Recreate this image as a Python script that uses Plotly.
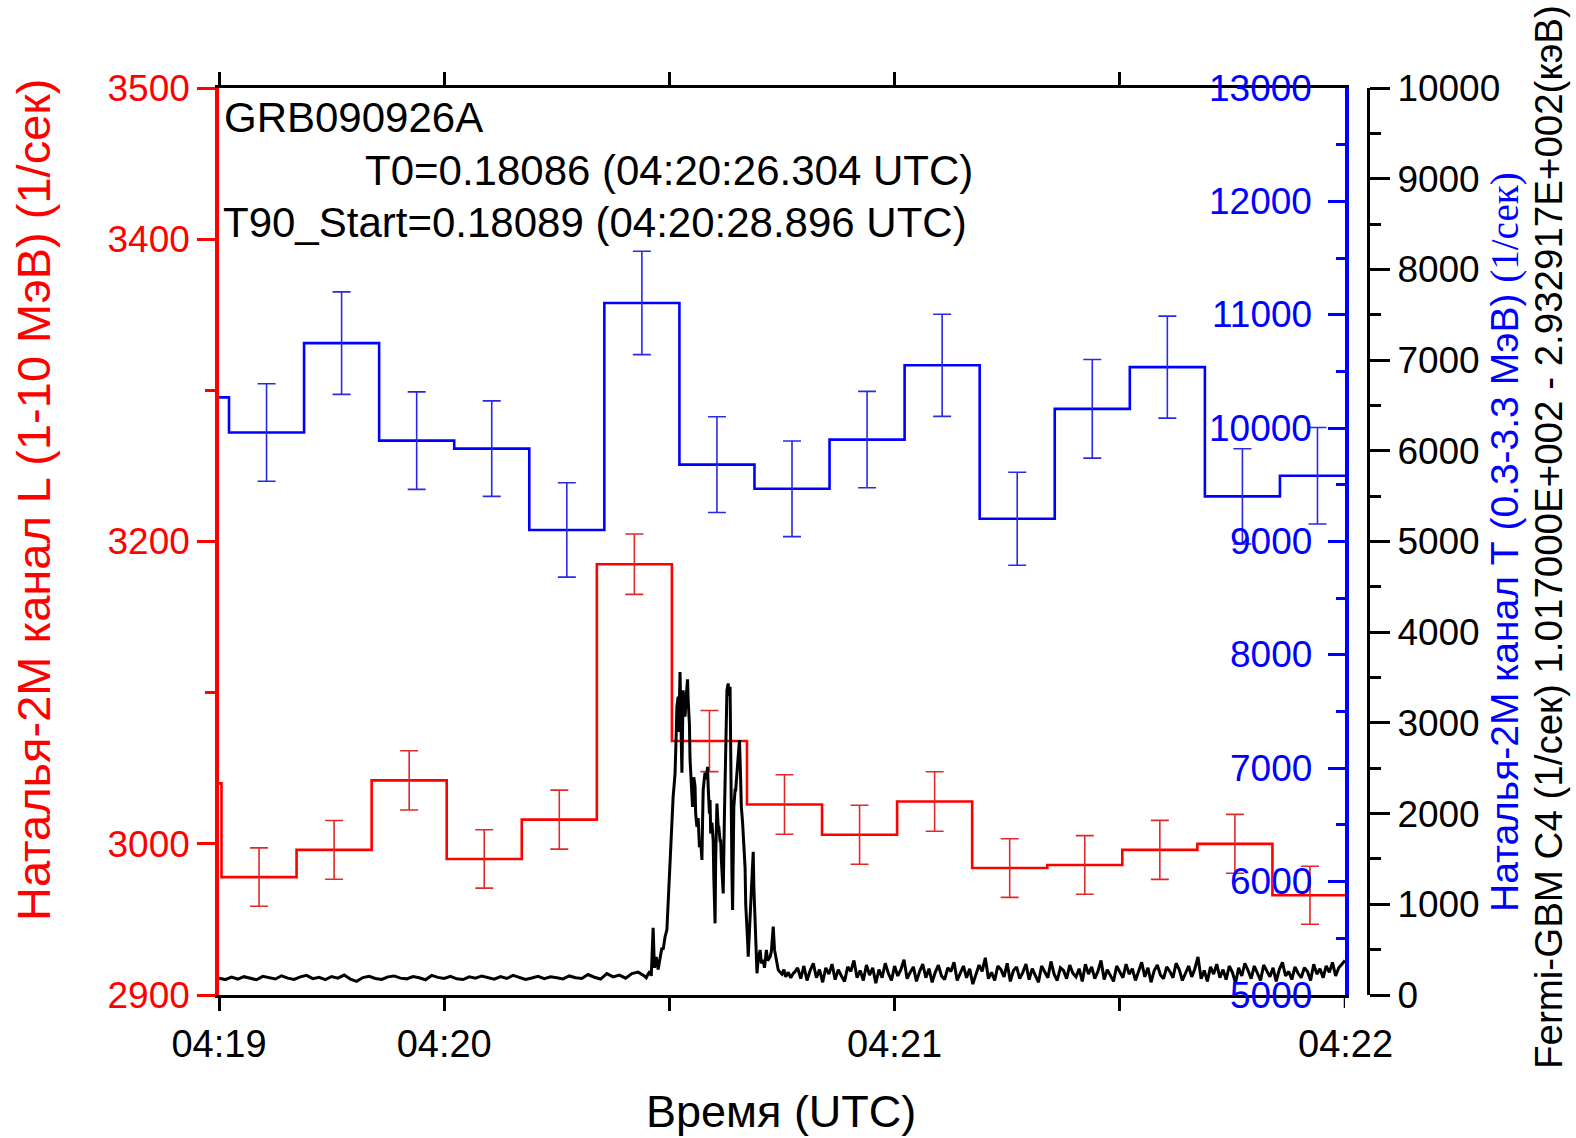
import numpy as np
import pandas as pd
import plotly.graph_objects as go

# ---------------------------------------------------------------------------
# Data
# ---------------------------------------------------------------------------
T_START = pd.Timestamp("2009-09-26 04:19:00")
SPAN_S = 180.0          # 04:19:00 .. 04:22:00
BIN_S = 12.0            # Natalya-2M bin length, s

# Natalya-2M, channel L (1-10 MeV): bin start (s after 04:19:00), rate, 1-sigma
chL_start = [-11.6, 0.4, 12.4, 24.4, 36.4, 48.4, 60.4, 72.4, 84.4, 96.4,
             108.4, 120.4, 132.4, 144.4, 156.4, 168.4]
chL_rate = [3040, 2978, 2996, 3042, 2990, 3016, 3185, 3068, 3026, 3006,
            3028, 2984, 2986, 2996, 3000, 2966]
chL_err = [19.4, 19.3, 19.4, 19.6, 19.3, 19.5, 20.0, 20.2, 19.7, 19.5,
           19.7, 19.4, 19.4, 19.5, 19.5, 19.2]

# Natalya-2M, channel T (0.3-3.3 MeV)
chT_start = [-10.4, 1.6, 13.6, 25.6, 37.6, 49.6, 61.6, 73.6, 85.6, 97.6,
             109.6, 121.6, 133.6, 145.6, 157.6, 169.6]
chT_rate = [10271, 9961, 10750, 9890, 9819, 9102, 11104, 9678, 9465, 9899,
            10554, 9201, 10170, 10538, 9398, 9580]
chT_err = [430, 430, 452, 430, 421, 416, 456, 422, 422, 425,
           450, 410, 435, 450, 420, 425]

# Fermi-GBM C4 light curve (counts/s)
# before the burst: 1 s samples from 0 s
gbm_pre_t0, gbm_pre_dt = 0.0, 1.0
gbm_pre_rate = [
    185, 170, 198, 176, 202, 188, 168, 206, 190, 176,
    212, 186, 172, 200, 216, 180, 194, 170, 204, 186,
    220, 176, 150, 192, 206, 182, 172, 200, 210, 186,
    178, 204, 190, 168, 216, 194, 182, 206, 178, 170,
    200, 186, 210, 190, 174, 204, 182, 216, 194, 172,
    188, 206, 180, 200, 190, 178, 210, 190, 182, 226,
    196, 176, 236, 200, 220, 186, 236, 252, 210]

# the burst itself
gbm_burst_t = [
    68.3, 68.6, 68.9, 69.1, 69.4, 69.6, 69.9, 70.2, 70.5, 70.8,
    71.0, 71.3, 71.6, 71.8, 72.0, 72.1, 72.3, 72.4, 72.6, 72.8,
    72.9, 73.1, 73.2, 73.4, 73.5, 73.7, 73.9, 74.0, 74.2, 74.4,
    74.5, 74.7, 74.9, 75.0, 75.2, 75.3, 75.4, 75.6, 75.7, 75.9,
    76.1, 76.2, 76.4, 76.6, 76.8, 77.0, 77.2, 77.3, 77.4, 77.6,
    77.7, 77.9, 78.1, 78.2, 78.4, 78.5, 78.6, 78.8, 79.0, 79.1,
    79.3, 79.4, 79.6, 79.8, 79.9, 80.1, 80.2, 80.3, 80.4, 80.5,
    80.6, 80.8, 80.9, 81.1, 81.2, 81.4, 81.5, 81.7, 81.8, 82.0,
    82.1, 82.2, 82.3, 82.5, 82.6, 82.8, 83.0, 83.2, 83.3, 83.5,
    83.7, 83.9, 84.1, 84.2, 84.4, 84.5, 84.6, 84.8, 85.0, 85.2,
    85.4, 85.5, 85.7, 85.9, 86.0, 86.2, 86.5, 86.7, 87.0, 87.2,
    87.5, 87.7, 88.1, 88.3, 88.6, 88.8, 89.0, 89.2, 89.4, 89.7,
    90.0, 90.3, 90.6, 91.0, 91.4, 91.8]
gbm_burst_rate = [
    190, 230, 260, 210, 740, 300, 420, 280, 430, 520,
    500, 640, 720, 1050, 1250, 1410, 1700, 1930, 2190, 2350,
    2440, 2900, 3180, 3290, 2900, 3560, 2800, 2450, 3360, 3200,
    3070, 3300, 3480, 3250, 2990, 2600, 2450, 2200, 2075, 2400,
    2300, 2000, 1855, 1950, 1630, 1700, 1490, 1900, 2260, 2400,
    2450, 2380, 2516, 2300, 2000, 2150, 1780, 1900, 1700, 1300,
    790, 1500, 2110, 1850, 1850, 1700, 1700, 1500, 1340, 1200,
    1120, 2000, 2440, 3000, 3360, 3435, 3300, 3398, 2500, 1340,
    937, 1500, 2075, 2259, 2259, 2450, 2700, 2810, 2600, 2075,
    1900, 1634, 1400, 1000, 790, 600, 422, 700, 973, 1300,
    1579, 1200, 790, 450, 239, 400, 496, 350, 386, 300,
    496, 380, 420, 480, 753, 500, 422, 320, 276, 250,
    230, 280, 200, 250, 190, 240]

# after the burst: 0.5 s samples from 92 s
gbm_post_t0, gbm_post_dt = 92.0, 0.5
gbm_post_rate = [
    250, 300, 180, 320, 160, 270, 350, 190, 280, 140, 300, 230, 340, 170, 280, 210, 150, 310, 260, 380,
    190, 270, 160, 330, 220, 300, 130, 280, 190, 350, 240, 160, 320, 210, 280, 390, 180, 250, 310, 150,
    260, 340, 190, 290, 140, 250, 330, 210, 170, 300, 260, 360, 160, 240, 320, 190, 290, 120, 230, 330,
    260, 410, 180, 250, 160, 320, 280, 200, 350, 150, 270, 310, 180, 250, 340, 170, 290, 220, 140, 320,
    260, 190, 370, 230, 160, 300, 270, 180, 330, 240, 200, 290, 150, 340, 230, 310, 180, 260, 380, 170,
    280, 210, 150, 320, 260, 190, 340, 230, 290, 160, 260, 360, 200, 300, 140, 270, 330, 220, 180, 310,
    260, 190, 350, 280, 160, 240, 320, 200, 290, 420, 180, 270, 150, 310, 230, 340, 190, 280, 170, 320,
    250, 130, 300, 210, 350, 270, 180, 320, 230, 160, 330, 260, 200, 300, 150, 280, 360, 210, 260, 170,
    310, 240, 190, 300, 260, 160, 340, 230, 290, 190, 320, 250, 360, 210, 300, 340, 380]

# Axis tick definitions
x_major_s = [0, 36, 108, 180]
x_major_text = ["04:19", "04:20", "04:21", "04:22"]
x_minor_s = [72, 144]
chL_ticks = [2900, 3000, 3200, 3400, 3500]
chL_minor = [3100, 3300]
chT_ticks = [5000, 6000, 7000, 8000, 9000, 10000, 11000, 12000, 13000]

# Text
event_name = "GRB090926A"
t0_text = "T0=0.18086 (04:20:26.304 UTC)"
t90_text = "T90_Start=0.18089 (04:20:28.896 UTC)"
title_L = "Наталья-2М канал L (1-10 МэВ) (1/сек)"
title_T = ("Наталья-2М канал Т (0.3-3.3 МэВ) "
           "<span style='font-family:Liberation Serif, Times New Roman, serif'>(1/сек)</span>")
title_gbm = "Fermi-GBM C4 (1/сек) 1.017000E+002 - 2.932917E+002(кэВ)"
title_x = "Время (UTC)"

# ---------------------------------------------------------------------------
# Helpers
# ---------------------------------------------------------------------------
def at(sec):
    return T_START + pd.to_timedelta(np.asarray(sec, dtype=float), unit="s")


def step_xy(starts, rates, width):
    xs = list(starts) + [starts[-1] + width]
    ys = list(rates) + [rates[-1]]
    return at(xs), ys


W, H = 1576, 1138
ML, MR, MT, MB = 219, 208, 88, 143
PW, PH = W - ML - MR, H - MT - MB
X_END = (1345 - ML) / PW      # right edge of the data area in paper units


def px(x):
    return (x - ML) / PW


def py(y):
    return (H - MB - y) / PH


FONT = "Liberation Sans, Arial, sans-serif"
RED, BLUE, BLACK = "#ff0000", "#0000ff", "#000000"

fig = go.Figure()

# --- channel L (red) ---
sx, sy = step_xy(chL_start, chL_rate, BIN_S)
fig.add_trace(go.Scatter(x=sx, y=sy, mode="lines", line=dict(color=RED, width=2.6, shape="hv"),
                         yaxis="y", showlegend=False, hoverinfo="skip"))
cL = [s + BIN_S / 2 for s in chL_start]
keep = [i for i, c in enumerate(cL) if 0 <= c <= SPAN_S]
fig.add_trace(go.Scatter(x=at([cL[i] for i in keep]), y=[chL_rate[i] for i in keep], mode="markers",
                         marker=dict(size=1, opacity=0),
                         error_y=dict(type="data", array=[chL_err[i] for i in keep],
                                      color="#e02a2a", thickness=1.6, width=9),
                         yaxis="y", showlegend=False, hoverinfo="skip"))

# --- channel T (blue) ---
sx, sy = step_xy(chT_start, chT_rate, BIN_S)
fig.add_trace(go.Scatter(x=sx, y=sy, mode="lines", line=dict(color=BLUE, width=2.6, shape="hv"),
                         yaxis="y2", showlegend=False, hoverinfo="skip"))
cT = [s + BIN_S / 2 for s in chT_start]
keep = [i for i, c in enumerate(cT) if 0 <= c <= SPAN_S]
fig.add_trace(go.Scatter(x=at([cT[i] for i in keep]), y=[chT_rate[i] for i in keep], mode="markers",
                         marker=dict(size=1, opacity=0),
                         error_y=dict(type="data", array=[chT_err[i] for i in keep],
                                      color="#2a2ae6", thickness=1.6, width=9),
                         yaxis="y2", showlegend=False, hoverinfo="skip"))

# --- Fermi-GBM (black) ---
pre_t = gbm_pre_t0 + gbm_pre_dt * np.arange(len(gbm_pre_rate))
post_t = gbm_post_t0 + gbm_post_dt * np.arange(len(gbm_post_rate))
gbm_t = np.concatenate([pre_t, gbm_burst_t, post_t])
gbm_r = list(gbm_pre_rate) + list(gbm_burst_rate) + list(gbm_post_rate)
fig.add_trace(go.Scatter(x=at(gbm_t), y=gbm_r, mode="lines",
                         line=dict(color=BLACK, width=3),
                         yaxis="y3", showlegend=False, hoverinfo="skip"))

# ---------------------------------------------------------------------------
# Axes
# ---------------------------------------------------------------------------
tick_font = dict(family=FONT, size=37)

fig.update_layout(
    width=W, height=H,
    margin=dict(l=ML, r=MR, t=MT, b=MB, pad=0),
    paper_bgcolor="white", plot_bgcolor="white",
    font=dict(family=FONT, color=BLACK),
    xaxis=dict(
        type="date", domain=[0, X_END],
        range=[at(0), at(SPAN_S)],
        showgrid=False, zeroline=False,
        showline=True, linecolor=BLACK, linewidth=3, mirror="allticks",
        ticks="outside", ticklen=13, tickwidth=2.5, tickcolor=BLACK,
        tickmode="array", tickvals=at([s for s in x_major_s if s < SPAN_S]),
        ticktext=[t for s, t in zip(x_major_s, x_major_text) if s < SPAN_S],
        tickfont=dict(family=FONT, size=38, color=BLACK),
        minor=dict(tickmode="array", tickvals=at(x_minor_s), ticks="outside",
                   ticklen=9, tickwidth=2.5, tickcolor=BLACK),
    ),
    yaxis=dict(
        range=[2900, 3500], showgrid=False, zeroline=False,
        showline=True, linecolor=RED, linewidth=3.5,
        ticks="outside", ticklen=18, tickwidth=3, tickcolor=RED,
        tickmode="array", tickvals=chL_ticks, tickformat="d",
        tickfont=dict(tick_font, color=RED),
        minor=dict(tickmode="array", tickvals=chL_minor, ticks="outside",
                   ticklen=10, tickwidth=3, tickcolor=RED),
    ),
    yaxis2=dict(
        overlaying="y", side="right", anchor="x",
        range=[5000, 13000], showgrid=False, zeroline=False,
        showline=True, linecolor=BLUE, linewidth=3.5,
        ticks="inside", ticklen=17, tickwidth=3, tickcolor=BLUE,
        tickmode="array", tickvals=chT_ticks, showticklabels=False,
        minor=dict(tickmode="linear", tick0=5000, dtick=500, ticks="inside",
                   ticklen=9, tickwidth=3, tickcolor=BLUE),
    ),
    yaxis3=dict(
        overlaying="y", side="right", anchor="free", position=1.0,
        range=[0, 10000], showgrid=False, zeroline=False,
        showline=True, linecolor=BLACK, linewidth=3,
        ticks="outside", ticklen=20, tickwidth=3, tickcolor=BLACK,
        tickmode="linear", tick0=0, dtick=1000, tickformat="d",
        tickfont=dict(tick_font, color=BLACK),
        minor=dict(tickmode="linear", tick0=0, dtick=500, ticks="outside",
                   ticklen=11, tickwidth=3, tickcolor=BLACK),
    ),
)

# the 04:22 label sits on the right edge of the range: draw it as an x-anchored note
for s, t in zip(x_major_s, x_major_text):
    if s >= SPAN_S:
        fig.add_annotation(text=t, x=at(s), xref="x", y=py(1044), yref="paper",
                           xanchor="center", yanchor="middle", showarrow=False,
                           font=dict(family=FONT, size=38, color=BLACK))
        fig.add_shape(type="line", xref="x", yref="paper", x0=at(s), x1=at(s),
                      y0=0, y1=py(1008), line=dict(color=BLACK, width=2.5))

# channel T tick labels sit inside the frame, left of the blue axis
for v in chT_ticks:
    fig.add_annotation(text=f"{v:d}", x=px(1314), xref="paper", y=v, yref="y2",
                       xanchor="right", yanchor="middle", showarrow=False,
                       font=dict(family=FONT, size=37, color=BLUE))

# ---------------------------------------------------------------------------
# Titles and labels
# ---------------------------------------------------------------------------
def note(text, x, y, size, color=BLACK, angle=0, xanchor="left", yanchor="middle"):
    fig.add_annotation(text=text, x=px(x), y=py(y), xref="paper", yref="paper",
                       xanchor=xanchor, yanchor=yanchor, textangle=angle,
                       showarrow=False, font=dict(family=FONT, size=size, color=color))


note(event_name, 222, 118, 42)
note(t0_text, 363, 171, 42)
note(t90_text, 221, 222, 42)

note(title_L, 34, 500, 47, RED, -90, "center")
note(title_T, 1505, 542, 39, BLUE, -90, "center")
note(title_gbm, 1548, 537, 38.5, BLACK, -90, "center")
note(title_x, 781, 1111, 45, BLACK, 0, "center")

fig.write_html("out.html")
